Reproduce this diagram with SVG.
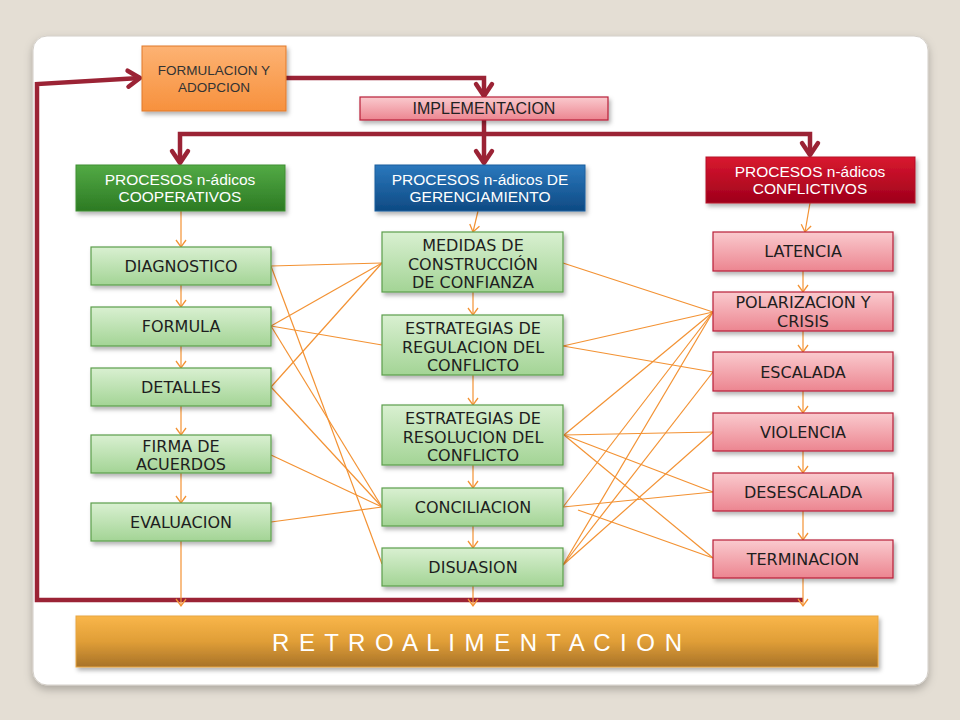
<svg xmlns="http://www.w3.org/2000/svg" width="960" height="720" viewBox="0 0 960 720">
<defs>
<linearGradient id="gGreen" x1="0" y1="0" x2="0" y2="1"><stop offset="0" stop-color="#D9F0D1"/><stop offset="1" stop-color="#A3D495"/></linearGradient>
<linearGradient id="gPink" x1="0" y1="0" x2="0" y2="1"><stop offset="0" stop-color="#FACACE"/><stop offset="1" stop-color="#EC8590"/></linearGradient>
<linearGradient id="gOrange" x1="0" y1="0" x2="0" y2="1"><stop offset="0" stop-color="#FDB273"/><stop offset="1" stop-color="#F7913D"/></linearGradient>
<linearGradient id="gCoop" x1="0" y1="0" x2="0" y2="1"><stop offset="0" stop-color="#53AA45"/><stop offset="1" stop-color="#2C7A23"/></linearGradient>
<linearGradient id="gGer" x1="0" y1="0" x2="0" y2="1"><stop offset="0" stop-color="#2B78BD"/><stop offset="1" stop-color="#0E4A83"/></linearGradient>
<linearGradient id="gCon" x1="0" y1="0" x2="0" y2="1"><stop offset="0" stop-color="#D9172F"/><stop offset="1" stop-color="#9E001B"/></linearGradient>
<linearGradient id="gGold" x1="0" y1="0" x2="0" y2="1"><stop offset="0" stop-color="#F9B64A"/><stop offset="0.5" stop-color="#E09E37"/><stop offset="1" stop-color="#A77228"/></linearGradient>
<filter id="sh" x="-10%" y="-20%" width="130%" height="160%"><feDropShadow dx="2" dy="3" stdDeviation="2" flood-color="#000" flood-opacity="0.3"/></filter>
<filter id="cardsh" x="-5%" y="-5%" width="110%" height="110%"><feDropShadow dx="0" dy="4" stdDeviation="4" flood-color="#000" flood-opacity="0.25"/></filter>
<marker id="ra" markerUnits="userSpaceOnUse" markerWidth="24" markerHeight="24" viewBox="0 0 24 24" refX="20" refY="12" orient="auto" overflow="visible"><path d="M8,4 L20,12 L8,20" fill="none" stroke="#9B2335" stroke-width="4.5" stroke-linecap="round" stroke-linejoin="round"/></marker>
<marker id="oa" markerUnits="userSpaceOnUse" markerWidth="12" markerHeight="12" viewBox="0 0 12 12" refX="10" refY="6" orient="auto" overflow="visible"><path d="M3,1 L10,6 L3,11" fill="none" stroke="#F39233" stroke-width="1.3"/></marker>
</defs>
<style>
.gb{fill:url(#gGreen);stroke:#5C9E4C;stroke-width:1.2;filter:url(#sh)}
.pb{fill:url(#gPink);stroke:#B81F38;stroke-width:1.2;filter:url(#sh)}
.t{font-family:"DejaVu Sans",Verdana,sans-serif;font-size:16px;fill:#1E1E1E;text-anchor:middle}
.h{font-family:"Liberation Sans",Arial,sans-serif;font-size:15.5px;fill:#FFFFFF;text-anchor:middle}
.rl{fill:none;stroke:#9B2335;stroke-width:4.5;stroke-linejoin:miter}
.ol{fill:none;stroke:#F39233;stroke-width:1.2}
</style>
<rect x="0" y="0" width="960" height="720" fill="#E4DED4"/>
<rect x="33" y="36" width="895" height="649" rx="14" fill="#FFFFFF" stroke="#D2CEC8" stroke-width="1" filter="url(#cardsh)"/>

<g id="connectors">
<!-- red flow lines -->
<path class="rl" d="M286,78 L484,78 L484,96" marker-end="url(#ra)"/>
<path class="rl" d="M484,120 L484,163" marker-end="url(#ra)"/>
<path class="rl" d="M484,134 L180,134 L180,163" marker-end="url(#ra)"/>
<path class="rl" d="M484,134 L810,134 L810,155" marker-end="url(#ra)"/>
<path class="rl" d="M803,600 L37,600 L37,84 L140,78" marker-end="url(#ra)"/>
<!-- vertical orange arrows -->
<line class="ol" x1="181" y1="211" x2="181" y2="247" marker-end="url(#oa)"/>
<line class="ol" x1="181" y1="285" x2="181" y2="307" marker-end="url(#oa)"/>
<line class="ol" x1="181" y1="346" x2="181" y2="368" marker-end="url(#oa)"/>
<line class="ol" x1="181" y1="406" x2="181" y2="435" marker-end="url(#oa)"/>
<line class="ol" x1="181" y1="473" x2="181" y2="503" marker-end="url(#oa)"/>
<line class="ol" x1="181" y1="541" x2="181" y2="606" marker-end="url(#oa)"/>
<line class="ol" x1="478" y1="211" x2="473" y2="232" marker-end="url(#oa)"/>
<line class="ol" x1="473" y1="292" x2="473" y2="315" marker-end="url(#oa)"/>
<line class="ol" x1="473" y1="375" x2="473" y2="405" marker-end="url(#oa)"/>
<line class="ol" x1="473" y1="465" x2="473" y2="488" marker-end="url(#oa)"/>
<line class="ol" x1="473" y1="526" x2="473" y2="548" marker-end="url(#oa)"/>
<line class="ol" x1="473" y1="586" x2="473" y2="606" marker-end="url(#oa)"/>
<line class="ol" x1="810" y1="203" x2="805" y2="232" marker-end="url(#oa)"/>
<line class="ol" x1="803" y1="271" x2="803" y2="292" marker-end="url(#oa)"/>
<line class="ol" x1="803" y1="331" x2="803" y2="352" marker-end="url(#oa)"/>
<line class="ol" x1="803" y1="391" x2="803" y2="413" marker-end="url(#oa)"/>
<line class="ol" x1="803" y1="451" x2="803" y2="473" marker-end="url(#oa)"/>
<line class="ol" x1="803" y1="511" x2="803" y2="540" marker-end="url(#oa)"/>
<line class="ol" x1="803" y1="578" x2="803" y2="606" marker-end="url(#oa)"/>
<!-- cross links left to middle -->
<line class="ol" x1="271" y1="266" x2="382" y2="263"/>
<line class="ol" x1="271" y1="266" x2="382" y2="564"/>
<line class="ol" x1="271" y1="326" x2="382" y2="263"/>
<line class="ol" x1="271" y1="326" x2="382" y2="345"/>
<line class="ol" x1="271" y1="326" x2="382" y2="507"/>
<line class="ol" x1="271" y1="387" x2="382" y2="263"/>
<line class="ol" x1="271" y1="387" x2="382" y2="507"/>
<line class="ol" x1="271" y1="455" x2="382" y2="507"/>
<line class="ol" x1="271" y1="522" x2="382" y2="507"/>
<!-- cross links middle to right -->
<line class="ol" x1="563" y1="263" x2="713" y2="312"/>
<line class="ol" x1="563" y1="346" x2="713" y2="312"/>
<line class="ol" x1="563" y1="346" x2="713" y2="372"/>
<line class="ol" x1="564" y1="435" x2="713" y2="312"/>
<line class="ol" x1="564" y1="435" x2="713" y2="432"/>
<line class="ol" x1="564" y1="435" x2="713" y2="492"/>
<line class="ol" x1="564" y1="435" x2="713" y2="558"/>
<line class="ol" x1="563" y1="507" x2="713" y2="312"/>
<line class="ol" x1="563" y1="507" x2="713" y2="492"/>
<line class="ol" x1="578" y1="510" x2="713" y2="558"/>
<line class="ol" x1="563" y1="565" x2="713" y2="312"/>
<line class="ol" x1="563" y1="565" x2="713" y2="372"/>
<line class="ol" x1="563" y1="565" x2="713" y2="432"/>
</g>

<g id="formulacion"><rect x="142" y="46" width="144" height="65" fill="url(#gOrange)" stroke="#E0782A" stroke-width="1" filter="url(#sh)"/>
<text x="214" y="75" font-family="Liberation Sans, Arial, sans-serif" font-size="13.5" fill="#333" text-anchor="middle">FORMULACION Y</text>
<text x="214" y="92" font-family="Liberation Sans, Arial, sans-serif" font-size="13.5" fill="#333" text-anchor="middle">ADOPCION</text></g>
<g id="implementacion"><rect x="360" y="97" width="248" height="23" class="pb"/>
<text x="484" y="114" font-family="Liberation Sans, Arial, sans-serif" font-size="16" fill="#222" text-anchor="middle">IMPLEMENTACION</text></g>

<g id="coop"><rect x="76" y="165" width="209" height="46" fill="url(#gCoop)" stroke="#3E8F33" stroke-width="1" filter="url(#sh)"/>
<text class="h" x="180" y="185">PROCESOS n-ádicos</text><text class="h" x="180" y="202">COOPERATIVOS</text></g>
<g id="ger"><rect x="375" y="165" width="210" height="46" fill="url(#gGer)" stroke="#1D5F9E" stroke-width="1" filter="url(#sh)"/>
<text class="h" x="480" y="185">PROCESOS n-ádicos DE</text><text class="h" x="480" y="202">GERENCIAMIENTO</text></g>
<g id="conf"><rect x="706" y="157" width="209" height="46" fill="url(#gCon)" stroke="#B50E28" stroke-width="1" filter="url(#sh)"/>
<text class="h" x="810" y="177">PROCESOS n-ádicos</text><text class="h" x="810" y="194">CONFLICTIVOS</text></g>

<g id="diagnostico"><rect class="gb" x="91" y="247" width="180" height="38"/><text class="t" x="181" y="272">DIAGNOSTICO</text></g>
<g id="formula"><rect class="gb" x="91" y="307" width="180" height="39"/><text class="t" x="181" y="332">FORMULA</text></g>
<g id="detalles"><rect class="gb" x="91" y="368" width="180" height="38"/><text class="t" x="181" y="393">DETALLES</text></g>
<g id="firma"><rect class="gb" x="91" y="435" width="180" height="38"/><text class="t" x="181" y="452">FIRMA DE</text><text class="t" x="181" y="470">ACUERDOS</text></g>
<g id="evaluacion"><rect class="gb" x="91" y="503" width="180" height="38"/><text class="t" x="181" y="528">EVALUACION</text></g>

<g id="medidas"><rect class="gb" x="382" y="232" width="181" height="60"/><text class="t" x="473" y="251">MEDIDAS DE</text><text class="t" x="473" y="270">CONSTRUCCIÓN</text><text class="t" x="473" y="288">DE CONFIANZA</text></g>
<g id="regulacion"><rect class="gb" x="382" y="315" width="181" height="60"/><text class="t" x="473" y="334">ESTRATEGIAS DE</text><text class="t" x="473" y="353">REGULACION DEL</text><text class="t" x="473" y="371">CONFLICTO</text></g>
<g id="resolucion"><rect class="gb" x="382" y="405" width="181" height="60"/><text class="t" x="473" y="424">ESTRATEGIAS DE</text><text class="t" x="473" y="443">RESOLUCION DEL</text><text class="t" x="473" y="461">CONFLICTO</text></g>
<g id="conciliacion"><rect class="gb" x="382" y="488" width="181" height="38"/><text class="t" x="473" y="513">CONCILIACION</text></g>
<g id="disuasion"><rect class="gb" x="382" y="548" width="181" height="38"/><text class="t" x="473" y="573">DISUASION</text></g>

<g id="latencia"><rect class="pb" x="713" y="232" width="180" height="39"/><text class="t" x="803" y="257">LATENCIA</text></g>
<g id="polarizacion"><rect class="pb" x="713" y="292" width="180" height="39"/><text class="t" x="803" y="308">POLARIZACION Y</text><text class="t" x="803" y="327">CRISIS</text></g>
<g id="escalada"><rect class="pb" x="713" y="352" width="180" height="39"/><text class="t" x="803" y="378">ESCALADA</text></g>
<g id="violencia"><rect class="pb" x="713" y="413" width="180" height="38"/><text class="t" x="803" y="438">VIOLENCIA</text></g>
<g id="desescalada"><rect class="pb" x="713" y="473" width="180" height="38"/><text class="t" x="803" y="498">DESESCALADA</text></g>
<g id="terminacion"><rect class="pb" x="713" y="540" width="180" height="38"/><text class="t" x="803" y="565">TERMINACION</text></g>

<g id="retro"><rect x="76" y="616" width="802" height="51" fill="url(#gGold)" stroke="#E8A640" stroke-width="1" filter="url(#sh)"/>
<text x="477" y="651" font-family="Liberation Sans, Arial, sans-serif" font-size="24" fill="#FFFFFF" text-anchor="middle" textLength="410" lengthAdjust="spacing">R E T R O A L I M E N T A C I O N</text></g>
</svg>
